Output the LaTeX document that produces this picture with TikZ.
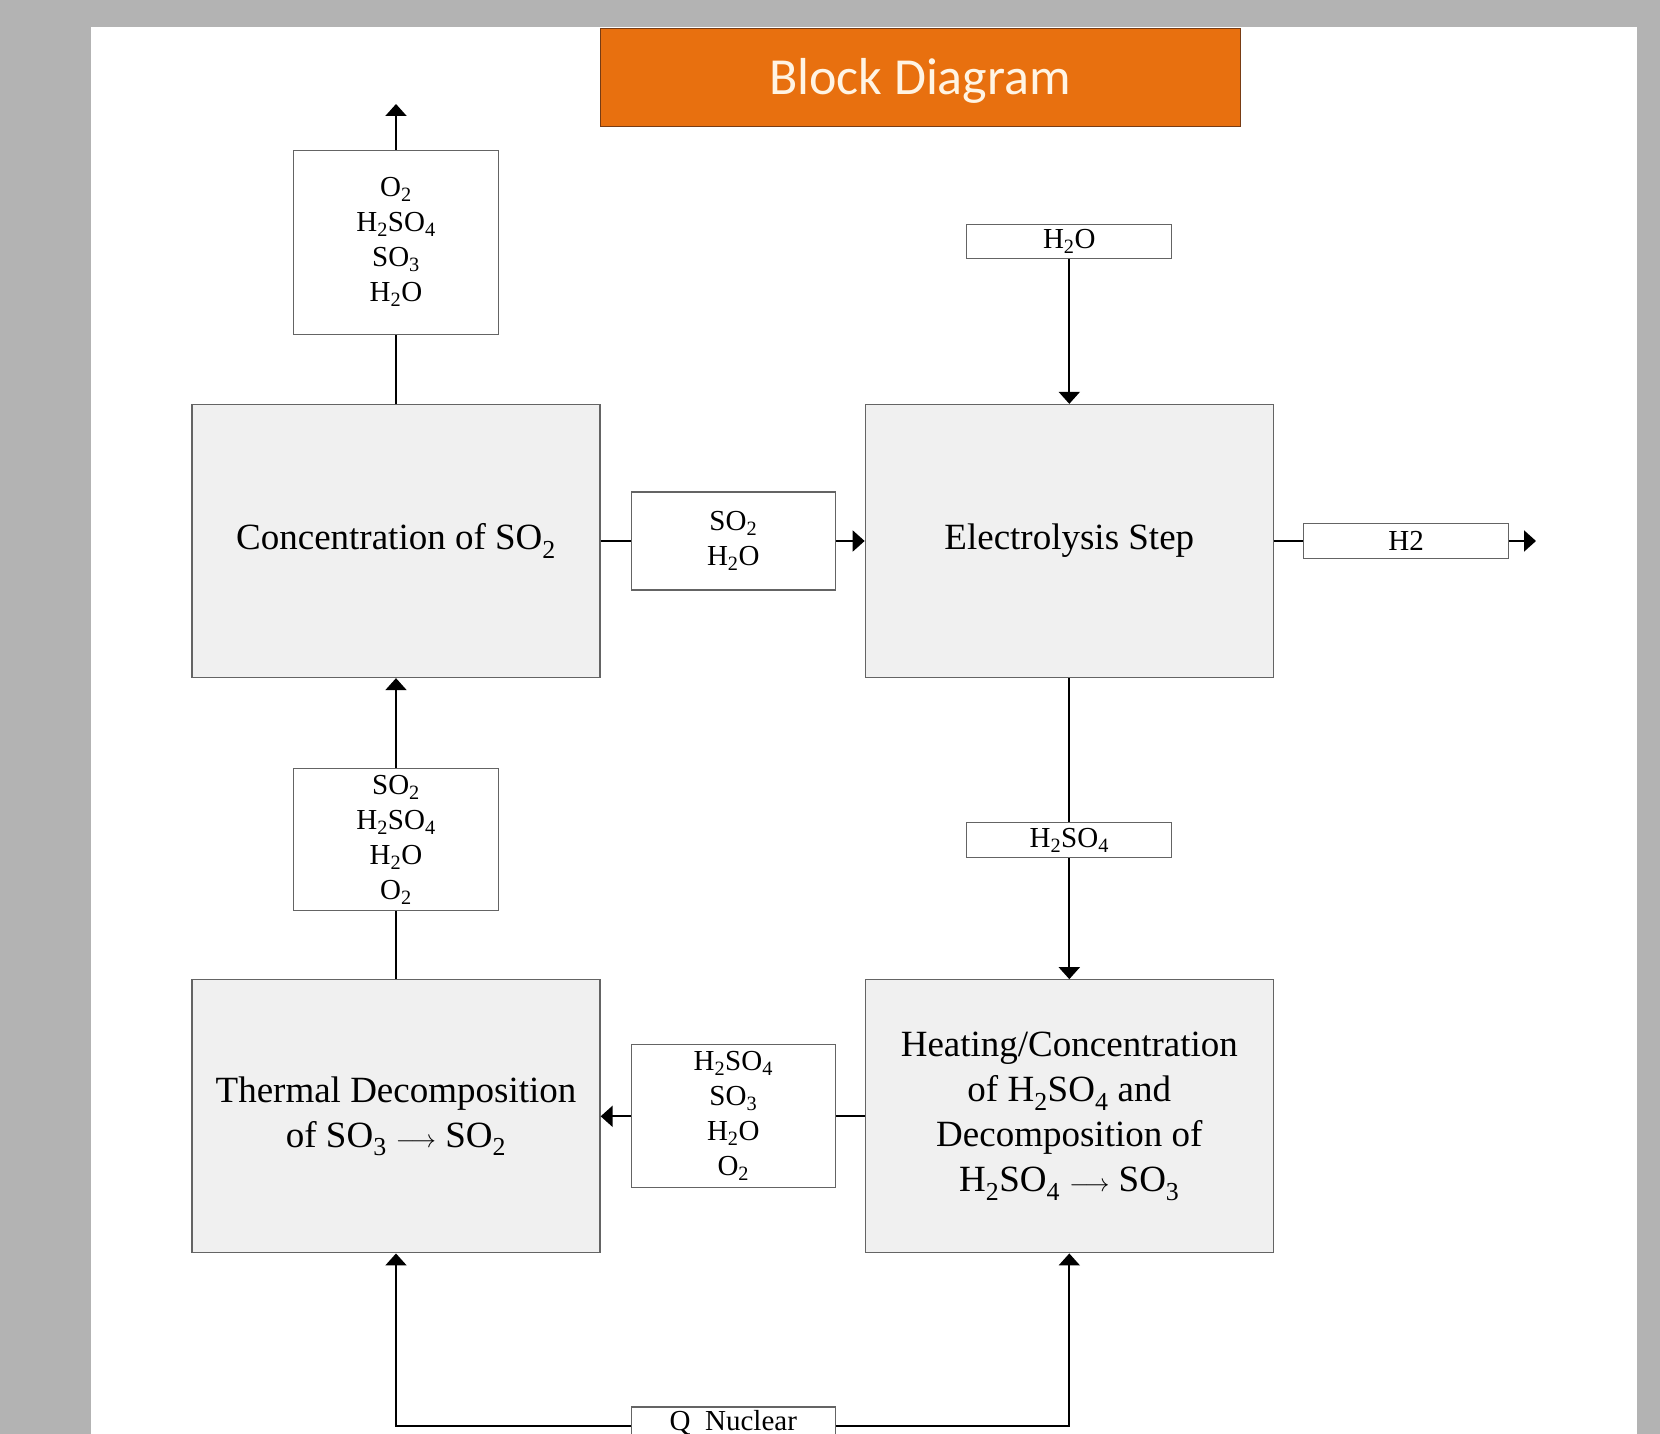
\documentclass[tikz,border=0pt]{standalone}
\usepackage{fontspec}
\setmainfont{Liberation Serif}
\newfontfamily\titlefont{Carlito}
\usepackage{tikz}
\usetikzlibrary{positioning}
\usetikzlibrary{arrows.meta}

\definecolor{pagegray}{RGB}{179,179,179}
\definecolor{titleorange}{RGB}{232,112,15}
\definecolor{titleedge}{RGB}{120,60,20}
\definecolor{titletext}{RGB}{255,244,228}
\definecolor{boxfill}{RGB}{240,240,240}
\definecolor{boxedge}{RGB}{100,100,100}

\begin{document}
\begin{tikzpicture}[x=1pt,y=-1pt,>={Triangle[length=12pt,width=21pt]},
  line width=2pt,
  block/.style={draw=boxedge,line width=1.3pt,fill=boxfill,inner sep=0pt,
    minimum width=408pt,minimum height=273pt,align=center,
    font=\fontsize{37}{45}\selectfont},
  stream/.style={draw=boxedge,line width=1.3pt,fill=white,inner sep=0pt,
    minimum width=205pt,align=center,font=\fontsize{29}{35}\selectfont},
  title box/.style={draw=titleedge,line width=1pt,fill=titleorange,
    minimum width=640pt,minimum height=98pt,text=titletext,
    font=\titlefont\fontsize{52}{60}\selectfont}]

  % page and background
  \useasboundingbox (0,0) rectangle (1660,1434);
  \clip (0,0) rectangle (1660,1434);
  \fill[pagegray] (0,0) rectangle (1660,1434);
  \fill[white] (91,27) rectangle (1637,1440);

  \node[title box,text depth=4pt] (title) at (920,78) {Block Diagram};

  % process steps
  \node[block] (conc) at (396,541) {Concentration of SO\textsubscript{2}};
  \node[block] (elec) [right=264pt of conc] {Electrolysis Step};
  \node[block] (therm) [below=301pt of conc] {Thermal Decomposition\\of SO\textsubscript{3} $\longrightarrow$\ SO\textsubscript{2}};
  \node[block] (heat) [right=264pt of therm] {Heating/Concentration\\of H\textsubscript{2}SO\textsubscript{4} and\\Decomposition of\\H\textsubscript{2}SO\textsubscript{4} $\longrightarrow$ SO\textsubscript{3}};

  % streams
  \node[stream,minimum height=184pt] (top1) [above=69pt of conc] {O\textsubscript{2}\\H\textsubscript{2}SO\textsubscript{4}\\SO\textsubscript{3}\\H\textsubscript{2}O};
  \node[stream,minimum height=142pt] (left1) [below=90pt of conc] {SO\textsubscript{2}\\H\textsubscript{2}SO\textsubscript{4}\\H\textsubscript{2}O\\O\textsubscript{2}};
  \node[stream,minimum width=204pt,minimum height=98pt] (mid1) [right=30pt of conc] {SO\textsubscript{2}\\H\textsubscript{2}O};
  \node[stream,minimum width=204pt,minimum height=143pt] (mid2) [right=30pt of therm] {H\textsubscript{2}SO\textsubscript{4}\\SO\textsubscript{3}\\H\textsubscript{2}O\\O\textsubscript{2}};
  \node[stream,minimum height=34pt] (h2o) [above=145pt of elec] {H\textsubscript{2}O};
  \node[stream,minimum height=35pt] (h2sulf) [below=144pt of elec] {H\textsubscript{2}SO\textsubscript{4}};
  \node[stream,minimum height=35pt] (h2) [right=29pt of elec] {H2};
  \node[stream,minimum width=204pt,inner ysep=3pt,text height=20pt,text depth=12pt] (qnuc) [below=218pt of mid2] {Q\ \ Nuclear};

  \coordinate (o2out) at (396,104);
  \coordinate (h2out) at (1536,541);

  % connectors
  \draw (conc) -- (top1);
  \draw[->] (top1) -- (o2out);
  \draw (conc) -- (mid1);
  \draw[->] (mid1) -- (elec);
  \draw[->] (h2o) -- (elec);
  \draw (elec) -- (h2);
  \draw[->] (h2) -- (h2out);
  \draw (elec) -- (h2sulf);
  \draw[->] (h2sulf) -- (heat);
  \draw (heat) -- (mid2);
  \draw[->] (mid2) -- (therm);
  \draw (therm) -- (left1);
  \draw[->] (left1) -- (conc);
  \draw[->] (qnuc.west) -| (therm.south);
  \draw[->] (qnuc.east) -| (heat.south);
\end{tikzpicture}
\end{document}
